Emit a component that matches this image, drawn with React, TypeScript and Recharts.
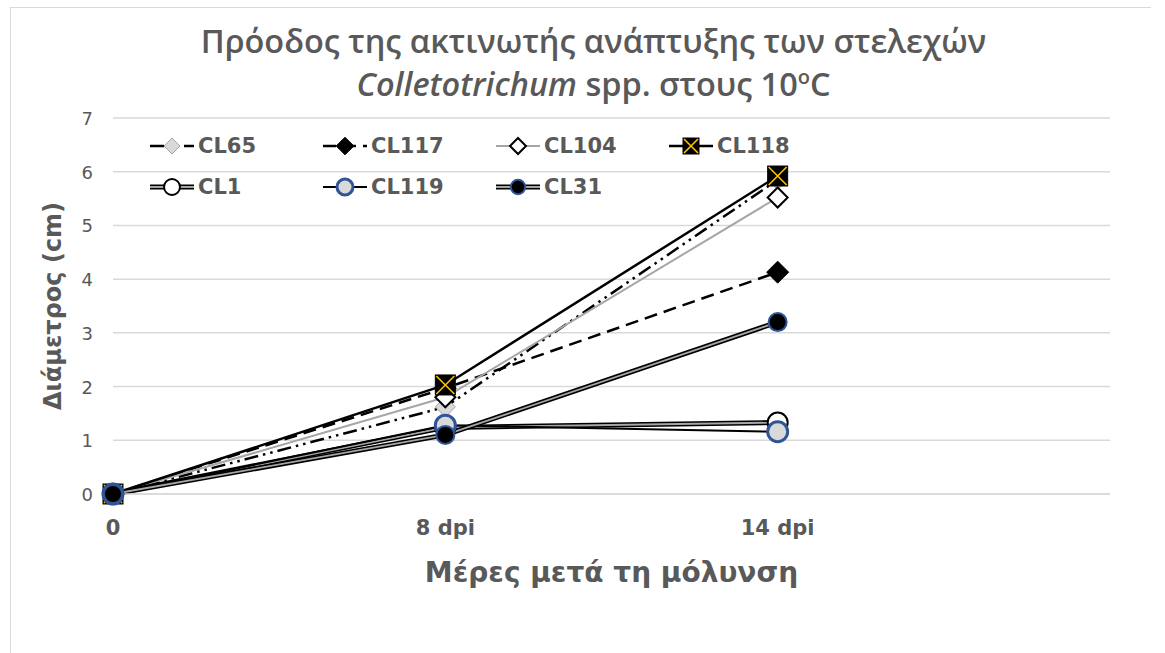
import React from 'react';
import { LineChart, Line, XAxis, YAxis, CartesianGrid } from 'recharts';

// radial growth (cm) of each strain at 0, 8 and 14 days post inoculation
const days = ['0', '8 dpi', '14 dpi', ''];
const cl65 = [0, 1.62, 5.85, null];
const cl117 = [0, 1.97, 4.13, null];
const cl104 = [0, 1.8, 5.52, null];
const cl118 = [0, 2.03, 5.92, null];
const cl1 = [0, 1.24, 1.33, null];
const cl119 = [0, 1.28, 1.16, null];
const cl31 = [0, 1.1, 3.2, null];
const yTicks = [0, 1, 2, 3, 4, 5, 6, 7];

const TEXT = '#595959';
const FONT = '"DejaVu Sans", sans-serif';

type Marker = 'diamond' | 'square' | 'circle';
type Series = {
  key: string;
  values: (number | null)[];
  stroke: string;
  width: number;
  dash?: string;
  double?: boolean;
  marker: Marker;
  fill: string;
  mstroke: string;
  mwidth: number;
  size: number;
};

const series: Series[] = [
  { key: 'CL65', values: cl65, stroke: '#000', width: 2.5, dash: '14 5 2.5 5 2.5 5', marker: 'diamond', fill: '#D9D9D9', mstroke: '#A6A6A6', mwidth: 1, size: 10 },
  { key: 'CL117', values: cl117, stroke: '#000', width: 2.5, dash: '13 7', marker: 'diamond', fill: '#000', mstroke: '#000', mwidth: 1, size: 11 },
  { key: 'CL104', values: cl104, stroke: '#A6A6A6', width: 2, marker: 'diamond', fill: '#fff', mstroke: '#000', mwidth: 2, size: 10 },
  { key: 'CL118', values: cl118, stroke: '#000', width: 2.5, marker: 'square', fill: '#000', mstroke: '#000', mwidth: 1, size: 10 },
  { key: 'CL1', values: cl1, stroke: '#000', width: 5, double: true, marker: 'circle', fill: '#fff', mstroke: '#000', mwidth: 2, size: 10 },
  { key: 'CL119', values: cl119, stroke: '#000', width: 2, marker: 'circle', fill: '#D9D9D9', mstroke: '#2F5597', mwidth: 3, size: 10 },
  { key: 'CL31', values: cl31, stroke: '#000', width: 5, double: true, marker: 'circle', fill: '#000', mstroke: '#2F5597', mwidth: 2, size: 9 },
];

const data = days.map((day, i) => {
  const row: Record<string, string | number | null> = { day };
  series.forEach((s) => { row[s.key] = s.values[i]; });
  return row;
});

const drawMarker = (s: Series, cx: number, cy: number, scale = 1) => {
  const r = s.size * scale;
  if (s.marker === 'diamond') {
    return (
      <path
        d={`M${cx},${cy - r} L${cx + r},${cy} L${cx},${cy + r} L${cx - r},${cy} Z`}
        fill={s.fill}
        stroke={s.mstroke}
        strokeWidth={s.mwidth}
      />
    );
  }
  if (s.marker === 'square') {
    return (
      <g>
        <rect x={cx - r} y={cy - r} width={r * 2} height={r * 2} fill={s.fill} stroke={s.mstroke} />
        <path
          d={`M${cx - r + 1},${cy - r + 1} L${cx + r - 1},${cy + r - 1} M${cx + r - 1},${cy - r + 1} L${cx - r + 1},${cy + r - 1}`}
          stroke="#FFC000"
          strokeWidth={1.6}
        />
      </g>
    );
  }
  return <circle cx={cx} cy={cy} r={r} fill={s.fill} stroke={s.mstroke} strokeWidth={s.mwidth} />;
};

const makeDot = (s: Series) => (props: any) => {
  const { cx, cy, value, index } = props;
  if (cx == null || cy == null || value == null) return <g key={`${s.key}-${index}`} />;
  return <g key={`${s.key}-${index}`}>{drawMarker(s, cx, cy)}</g>;
};

const LegendSymbol = ({ s }: { s: Series }) => (
  <svg width={48} height={24} style={{ display: 'block', overflow: 'visible' }}>
    <line x1={2} y1={12} x2={46} y2={12} stroke={s.stroke} strokeWidth={s.double ? 5 : s.width} strokeDasharray={s.dash} />
    {s.double && <line x1={2} y1={12} x2={46} y2={12} stroke="#A6A6A6" strokeWidth={2} />}
    {drawMarker(s, 24, 12, 0.8)}
  </svg>
);

// legend sits inside the plot area, four entries per row
const ChartLegend = () => (
  <div
    style={{
      position: 'absolute', left: 148, top: 133, display: 'grid',
      gridTemplateColumns: 'repeat(4, 173px)', rowGap: 15,
    }}
  >
    {series.map((s) => (
      <div key={s.key} style={{ display: 'flex', alignItems: 'center', height: 26 }}>
        <LegendSymbol s={s} />
        <span style={{ fontFamily: FONT, fontWeight: 'bold', fontSize: 21, color: TEXT, marginLeft: 2 }}>{s.key}</span>
      </div>
    ))}
  </div>
);

const XTick = (props: any) => {
  const { x, y, payload } = props;
  return (
    <text x={x} y={y + 33} textAnchor="middle" fill={TEXT} fontFamily={FONT} fontWeight="bold" fontSize={21}>
      {payload.value}
    </text>
  );
};

const YTick = (props: any) => {
  const { x, y, payload } = props;
  return (
    <text x={x - 12} y={y + 7} textAnchor="end" fill={TEXT} fontFamily={FONT} fontSize={18}>
      {payload.value}
    </text>
  );
};

export default function App() {
  return (
    <div style={{ position: 'absolute', left: 0, top: 0, width: 1165, height: 653, background: '#fff', overflow: 'hidden' }}>
      <div
        style={{
          position: 'absolute', left: 10, top: 7, width: 1140, height: 660,
          borderLeft: '1px solid #D9D9D9', borderTop: '1px solid #D9D9D9',
        }}
      />
      <div style={{ position: 'absolute', left: 0, top: 23, width: 1165, textAlign: 'center', fontFamily: '"Open Sans", sans-serif', fontWeight: 600, color: TEXT, fontSize: 32.5, lineHeight: '36px' }}>
        <div style={{ marginLeft: 22 }}>Πρόοδος της ακτινωτής ανάπτυξης των στελεχών</div>
        <div style={{ marginLeft: 22 }}><i>Colletotrichum</i> spp. στους 10<sup style={{ fontSize: 20 }}>ο</sup>C</div>
      </div>
      <div style={{ position: 'absolute', left: 0, top: 0 }}>
        <LineChart width={1165} height={653} data={data} margin={{ top: 118, right: 55, bottom: 119, left: 73 }}>
          <CartesianGrid vertical={false} stroke="#D9D9D9" strokeWidth={1.5} />
          <XAxis
            dataKey="day"
            height={40}
            axisLine={{ stroke: '#D9D9D9', strokeWidth: 1.5 }}
            tickLine={false}
            tick={<XTick />}
            interval={0}
            label={{ value: 'Μέρες μετά τη μόλυνση', position: 'insideBottom', offset: -48, fill: TEXT, fontFamily: FONT, fontWeight: 'bold', fontSize: 28 }}
          />
          <YAxis
            domain={[0, 7]}
            ticks={yTicks}
            width={40}
            axisLine={false}
            tickLine={false}
            tick={<YTick />}
            label={{ value: 'Διάμετρος (cm)', angle: -90, position: 'center', dx: -41, fill: TEXT, fontFamily: FONT, fontWeight: 'bold', fontSize: 24 }}
          />
          {series.flatMap((s) => {
            const lines = [];
            if (s.double) {
              lines.push(
                <Line key={`${s.key}-outer`} dataKey={s.key} stroke={s.stroke} strokeWidth={s.width} dot={false} activeDot={false} legendType="none" isAnimationActive={false} />
              );
            }
            lines.push(
              <Line
                key={s.key}
                dataKey={s.key}
                stroke={s.double ? '#A6A6A6' : s.stroke}
                strokeWidth={s.double ? 1.8 : s.width}
                strokeDasharray={s.dash}
                dot={makeDot(s)}
                activeDot={false}
                isAnimationActive={false}
              />
            );
            return lines;
          })}
        </LineChart>
      </div>
      <ChartLegend />
    </div>
  );
}
